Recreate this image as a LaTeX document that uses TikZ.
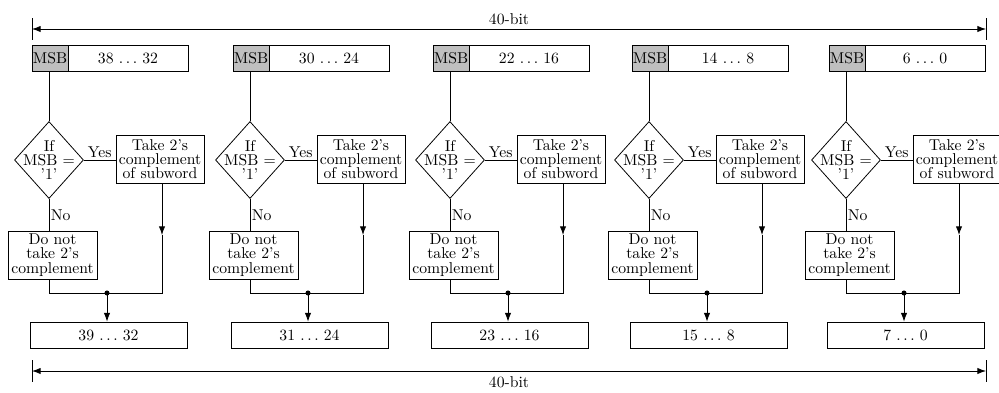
\documentclass[tikz,border=0pt]{standalone}
\usetikzlibrary{shapes.geometric,arrows.meta,calc}
\newdimen\pxu \pxu=0.637pt
\begin{document}
\begin{tikzpicture}[x=0.637pt,y=-0.637pt, line width=0.5pt,
  font=\fontsize{10}{9.1}\selectfont,
  box/.style={draw,rectangle,inner sep=0pt,align=center},
  msb/.style={box,fill=black!25},
  dia/.style={draw,diamond,inner sep=0pt,minimum width=69*\pxu,minimum height=77*\pxu},
  lbl/.style={inner sep=0pt,align=center},
  arr/.style={-{Latex[length=5.5pt,width=4pt]}},
  dblarr/.style={{Latex[length=5.5pt,width=4pt]}-{Latex[length=5.5pt,width=4pt]}},
  jdot/.style={circle,fill,inner sep=0pt,minimum size=3.2pt}]
\useasboundingbox (0,0) rectangle (999,392);
% global width arrows
\coordinate (tl) at (32,29); \coordinate (tr) at (986,29);
\coordinate (bl) at (32,371); \coordinate (br) at (986,371);
\draw[dblarr] (tl) -- (tr);
\draw[dblarr] (bl) -- (br);
\draw ($(tl)+(0,-11)$) -- ($(tl)+(0,11)$);
\draw ($(tr)+(0,-11)$) -- ($(tr)+(0,11)$);
\draw ($(bl)+(0,-11)$) -- ($(bl)+(0,11)$);
\draw ($(br)+(0,-11)$) -- ($(br)+(0,11)$);
\node[lbl] (toplab) at (509,19) {40-bit};
\node[lbl] (botlab) at (509,382.5) {40-bit};
\foreach \i/\o/\n/\m in {1/0/38 $\ldots$ 32/39 $\ldots$ 32,
                         2/201/30 $\ldots$ 24/31 $\ldots$ 24,
                         3/401/22 $\ldots$ 16/23 $\ldots$ 16,
                         4/600/14 $\ldots$ 8/15 $\ldots$ 8,
                         5/797/6 $\ldots$ 0/7 $\ldots$ 0}{
  \node[msb, minimum width=36*\pxu, minimum height=26*\pxu] (m\i) at (50+\o,58) {MSB};
  \node[box, minimum width=120*\pxu, minimum height=26*\pxu] (n\i) at (128+\o,58) {\n};
  \node[dia] (d\i) at (49+\o,160) {};
  \node[lbl] (dt\i) at (49+\o,160) {If\\MSB $=$\\'1'};
  \node[box, minimum width=88*\pxu, minimum height=48*\pxu] (t\i) at (160+\o,159) {Take 2's\\complement\\of subword};
  \node[box, minimum width=89*\pxu, minimum height=48*\pxu] (nt\i) at (52.5+\o,255) {Do not\\take 2's\\complement};
  \node[box, minimum width=157*\pxu, minimum height=26*\pxu] (o\i) at (108.5+\o,335) {\m};
  \coordinate (j\i) at (107+\o,293);
  \coordinate (tk\i) at (162+\o,235);
  \draw (d\i.north) -- (d\i.north |- m\i.south);
  \draw (d\i.east) -- node[above, inner sep=1.5pt] {Yes} (d\i.east -| t\i.west);
  \draw (d\i.south) -- node[right, inner sep=1pt] {No} (d\i.south |- nt\i.north);
  \draw[arr] (t\i.south -| tk\i) -- (tk\i);
  \draw (nt\i.south -| d\i) -- (d\i |- j\i) -- (tk\i |- j\i) -- (tk\i);
  \node[jdot] (jd\i) at (j\i) {};
  \draw[arr] (jd\i.center) -- (o\i.north -| j\i);
}
\end{tikzpicture}
\end{document}
